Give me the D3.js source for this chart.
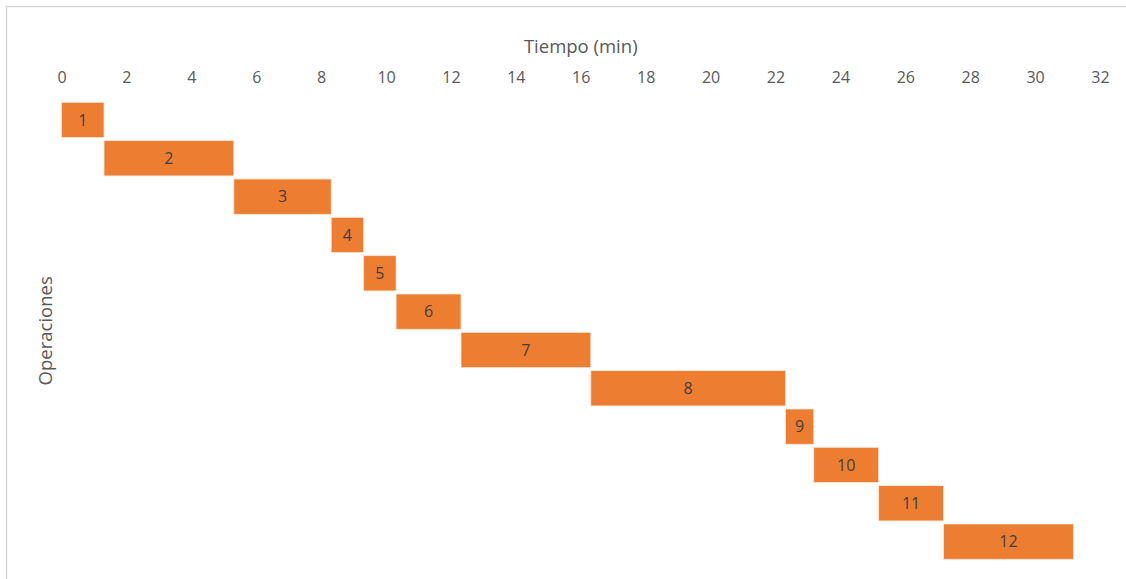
<!DOCTYPE html>
<html>
<head>
<meta charset="utf-8">
<script src="https://cdn.jsdelivr.net/npm/d3@7"></script>
<style>
html,body{margin:0;padding:0;background:#fff;}
svg{display:block;}
text{font-family:"Open Sans","Noto Sans",sans-serif;}
</style>
</head>
<body>
<svg id="chart" width="1126" height="579"></svg>
<script>
const operations = ["1","2","3","4","5","6","7","8","9","10","11","12"];
const starts = [0, 1.31, 5.31, 8.31, 9.31, 10.31, 12.31, 16.31, 22.31, 23.18, 25.18, 27.18];
const durations = [1.31, 4, 3, 1, 1, 2, 4, 6, 0.87, 2, 2, 4];
const xTicks = [0,2,4,6,8,10,12,14,16,18,20,22,24,26,28,30,32];
const xTitle = "Tiempo (min)";
const yTitle = "Operaciones";

const svg = d3.select("#chart");
const W = 1126, H = 579;

// chart area border
svg.append("rect").attr("x",6.5).attr("y",6.5).attr("width",W).attr("height",H)
  .attr("fill","#fff").attr("stroke","#d9d9d9").attr("stroke-width",1.5);

const plot = {left:61.5, right:1100, top:100.8, bottom:560.8};

const x = d3.scaleLinear().domain([0,32]).range([plot.left, plot.right]);
const y = d3.scaleBand().domain(operations).range([plot.top, plot.bottom]).paddingInner(0.08).paddingOuter(0.04);

const xAxis = d3.axisTop(x).tickValues(xTicks).tickSize(0).tickPadding(0).tickFormat(d3.format("d"));
const gx = svg.append("g").attr("transform",`translate(0,${82.5})`).call(xAxis);
gx.select(".domain").remove();
gx.selectAll("text").attr("fill","#595959").attr("font-size",16).attr("dy",0);

svg.append("text").attr("x",(plot.left+plot.right)/2).attr("y",53)
  .attr("text-anchor","middle").attr("fill","#595959").attr("font-size",18.5).text(xTitle);

svg.append("text").attr("transform",`translate(52,${(plot.top+plot.bottom)/2}) rotate(-90)`)
  .attr("text-anchor","middle").attr("fill","#595959").attr("font-size",18.5).text(yTitle);

const data = operations.map((o,i)=>({op:o, start:starts[i], dur:durations[i]}));

svg.append("g").selectAll("rect").data(data).join("rect")
  .attr("x",d=>x(d.start))
  .attr("y",d=>y(d.op))
  .attr("width",d=>x(d.start+d.dur)-x(d.start))
  .attr("height",y.bandwidth())
  .attr("fill","#ed7d31")
  .attr("stroke","#fbe5d6").attr("stroke-width",0.8);

svg.append("g").selectAll("text").data(data).join("text")
  .attr("x",d=>x(d.start+d.dur/2))
  .attr("y",d=>y(d.op)+y.bandwidth()/2)
  .attr("dy","0.36em")
  .attr("text-anchor","middle")
  .attr("fill","#404040").attr("font-size",16)
  .text(d=>d.op);
</script>
</body>
</html>
